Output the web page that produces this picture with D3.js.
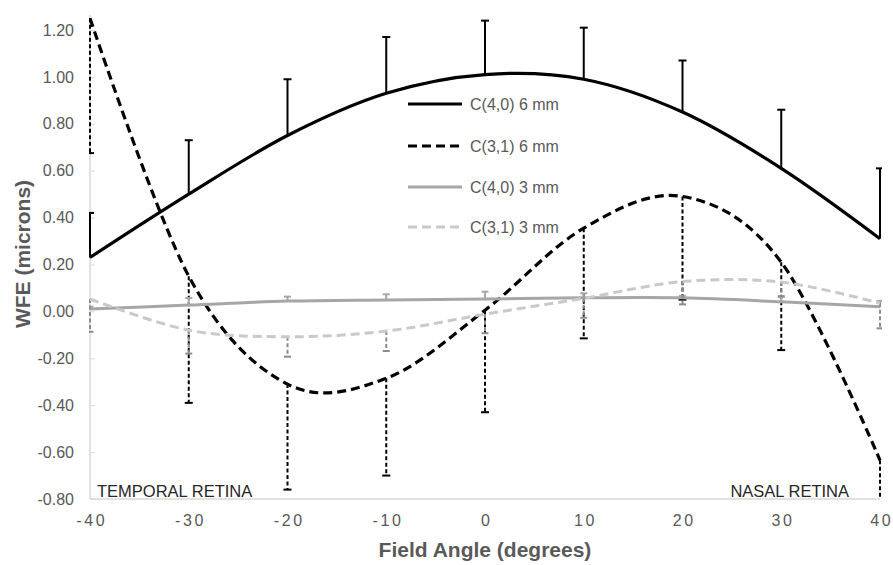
<!DOCTYPE html>
<html>
<head>
<meta charset="utf-8">
<script src="https://cdn.jsdelivr.net/npm/d3@7"></script>
<style>
  html, body { margin: 0; padding: 0; background: #ffffff; }
  svg { display: block; font-family: "Liberation Sans", Arial, sans-serif; }
</style>
</head>
<body>
<svg id="chart" width="893" height="565"></svg>
<script>
// ---- data ----
const fieldAngles = [-40, -30, -20, -10, 0, 10, 20, 30, 40];
const yTickValues = [-0.8, -0.6, -0.4, -0.2, 0, 0.2, 0.4, 0.6, 0.8, 1.0, 1.2];

const c40_6mm      = [0.23, 0.50, 0.75, 0.93, 1.01, 0.99, 0.85, 0.61, 0.31];
const c40_6mm_plus = [0.19, 0.23, 0.24, 0.24, 0.23, 0.22, 0.22, 0.25, 0.30];

const c31_6mm       = [1.25, 0.15, -0.31, -0.285, 0.005, 0.355, 0.49, 0.21, -0.635];
const c31_6mm_minus = [0.575, 0.54, 0.45, 0.415, 0.435, 0.47, 0.44, 0.375, 0.17];

const c40_3mm      = [0.01, 0.027, 0.044, 0.049, 0.053, 0.058, 0.058, 0.041, 0.02];
const c40_3mm_plus = [0.01, 0.03, 0.019, 0.024, 0.031, 0.019, 0.008, 0.02, 0.025];

const c31_3mm       = [0.053, -0.08, -0.108, -0.084, -0.012, 0.056, 0.127, 0.125, 0.035];
const c31_3mm_minus = [0.14, 0.10, 0.085, 0.085, 0.081, 0.083, 0.097, 0.06, 0.107];

const seriesNames = ["C(4,0) 6 mm", "C(3,1) 6 mm", "C(4,0) 3 mm", "C(3,1) 3 mm"];

// ---- build series table ----
const series = [
  { name: seriesNames[0], values: c40_6mm, err: c40_6mm_plus, dir: 1,
    color: "#000000", width: 3.2, dash: null, barColor: "#000000", barDash: null, barWidth: 2, cap: 4 },
  { name: seriesNames[1], values: c31_6mm, err: c31_6mm_minus, dir: -1,
    color: "#000000", width: 3.2, dash: "9,5", barColor: "#000000", barDash: "4,2.5", barWidth: 2, cap: 4 },
  { name: seriesNames[2], values: c40_3mm, err: c40_3mm_plus, dir: 1,
    color: "#a6a6a6", width: 3, dash: null, barColor: "#a6a6a6", barDash: null, barWidth: 2, cap: 3.5 },
  { name: seriesNames[3], values: c31_3mm, err: c31_3mm_minus, dir: -1,
    color: "#c9c9c9", width: 3, dash: "9,5", barColor: "#8c8c8c", barDash: "4,2.5", barWidth: 2, cap: 3.5 }
];

const svg = d3.select("#chart");
const x = d3.scaleLinear().domain([-40, 40]).range([90, 880]);
const y = d3.scaleLinear().domain([-0.8, 1.2]).range([499, 30]);

const textColor = "#595959";
const axisColor = "#d9d9d9";
const hyphen = f => (d => f(d).replace("\u2212", "-"));

// clip to plot area
svg.append("defs").append("clipPath").attr("id", "plotclip")
  .append("rect").attr("x", 89).attr("y", 10).attr("width", 793).attr("height", y(-0.8) - 10);

// ---- axes ----
const yAxis = d3.axisLeft(y).tickValues(yTickValues)
  .tickFormat(hyphen(d3.format(".2f"))).tickSizeInner(-5).tickSizeOuter(0).tickPadding(16);
const gy = svg.append("g").attr("transform", `translate(${x(-40)},0)`).call(yAxis);
gy.select(".domain").remove();
gy.selectAll(".tick line").attr("stroke", axisColor);
gy.selectAll(".tick text").attr("fill", textColor).style("font-size", "16px");
svg.append("line").attr("x1", x(-40)).attr("x2", x(-40)).attr("y1", 15).attr("y2", y(-0.8))
  .attr("stroke", axisColor).attr("stroke-width", 1.5);

const xAxis = d3.axisBottom(x).tickValues(fieldAngles).tickFormat(hyphen(d3.format("d")))
  .tickSize(0).tickPadding(0);
const gx = svg.append("g").attr("transform", `translate(0,${y(-0.8)})`).call(xAxis);
gx.select(".domain").remove();
gx.selectAll(".tick text").attr("fill", textColor).style("font-size", "16px")
  .style("letter-spacing", "2.7px").attr("y", 27).attr("dy", 0).attr("dx", 1.3);
svg.append("line").attr("x1", x(-40)).attr("x2", x(40)).attr("y1", y(-0.8)).attr("y2", y(-0.8))
  .attr("stroke", axisColor).attr("stroke-width", 1.5);

// axis titles
svg.append("text").attr("x", (x(-40) + x(40)) / 2).attr("y", 557)
  .attr("text-anchor", "middle").attr("fill", textColor)
  .style("font-size", "21px").style("font-weight", "bold").text("Field Angle (degrees)");
svg.append("text").attr("transform", `translate(30,254) rotate(-90)`)
  .attr("text-anchor", "middle").attr("fill", textColor)
  .style("font-size", "21px").style("font-weight", "bold").text("WFE (microns)");

// region annotations
svg.append("text").attr("x", 97).attr("y", 497).attr("fill", "#262626")
  .style("font-size", "16.5px").text("TEMPORAL RETINA");
svg.append("text").attr("x", 849).attr("y", 497).attr("text-anchor", "end").attr("fill", "#262626")
  .style("font-size", "16.5px").text("NASAL RETINA");

// ---- plot ----
const plot = svg.append("g").attr("clip-path", "url(#plotclip)");
const line = d3.line().x((d, i) => x(fieldAngles[i])).y(d => y(d)).curve(d3.curveCardinal.tension(0));

series.forEach(s => {
  const g = plot.append("g");
  // error bars
  s.values.forEach((v, i) => {
    const x0 = x(fieldAngles[i]);
    const yEnd = y(v + s.dir * s.err[i]);
    g.append("line").attr("x1", x0).attr("x2", x0).attr("y1", y(v)).attr("y2", yEnd)
      .attr("stroke", s.barColor).attr("stroke-width", s.barWidth)
      .attr("stroke-dasharray", s.barDash);
    g.append("line").attr("x1", x0 - s.cap).attr("x2", x0 + s.cap).attr("y1", yEnd).attr("y2", yEnd)
      .attr("stroke", s.barColor).attr("stroke-width", 2);
  });
  g.append("path").datum(s.values).attr("d", line)
    .attr("fill", "none").attr("stroke", s.color).attr("stroke-width", s.width)
    .attr("stroke-dasharray", s.dash);
});

// ---- legend ----
const legendRows = [104, 146, 187, 227];
const legend = svg.append("g");
series.forEach((s, i) => {
  legend.append("line").attr("x1", 408).attr("x2", 462).attr("y1", legendRows[i]).attr("y2", legendRows[i])
    .attr("stroke", s.color).attr("stroke-width", s.width).attr("stroke-dasharray", s.dash);
  legend.append("text").attr("x", 470).attr("y", legendRows[i]).attr("dy", "0.35em")
    .attr("fill", textColor).style("font-size", "16px").text(s.name);
});
</script>
</body>
</html>
